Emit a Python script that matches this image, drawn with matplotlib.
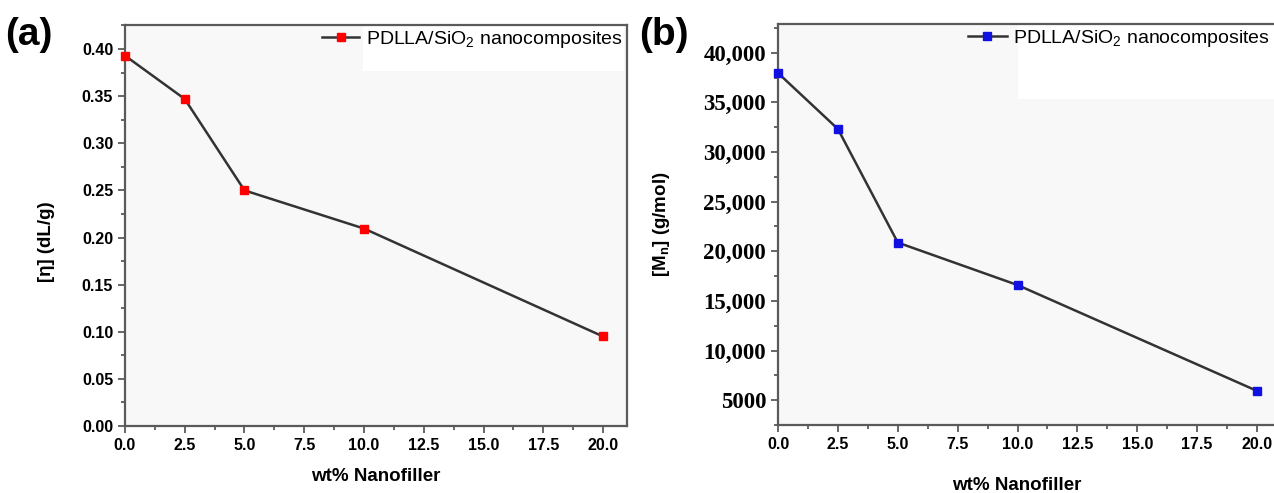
import matplotlib.pyplot as plt
from matplotlib.patches import Rectangle
from matplotlib.ticker import MultipleLocator, FuncFormatter

# data
wt_pct = [0.0, 2.5, 5.0, 10.0, 20.0]
eta = [0.393, 0.347, 0.250, 0.2095, 0.095]
mn = [37960, 32320, 20880, 16600, 5930]
legend_label = 'PDLLA/SiO$_2$ nanocomposites'
xticks = [0.0, 2.5, 5.0, 7.5, 10.0, 12.5, 15.0, 17.5, 20.0]
mn_ticks = [5000, 10000, 15000, 20000, 25000, 30000, 35000, 40000]

plt.rcParams['font.family'] = ['Liberation Sans', 'DejaVu Sans']
plt.rcParams['mathtext.fontset'] = 'custom'
plt.rcParams['mathtext.rm'] = 'Liberation Sans'
plt.rcParams['mathtext.bf'] = 'Liberation Sans:bold'

fig = plt.figure(figsize=(12.74, 4.93), dpi=100)
ax1 = fig.add_axes([0.0981, 0.1359, 0.394, 0.8134])
ax2 = fig.add_axes([0.6107, 0.1380, 0.3948, 0.8133])

spine_col = '#5a5a5a'
line_col = '#333333'


def style_axis(ax):
    ax.set_facecolor('#f8f8f8')
    for s in ax.spines.values():
        s.set_color(spine_col)
        s.set_linewidth(1.6)
    ax.tick_params(which='both', direction='out', color=spine_col, width=1.3)
    ax.tick_params(which='major', length=5)
    ax.tick_params(which='minor', length=3)
    ax.tick_params(top=False, right=False)
    ax.set_xlim(0, 21)
    ax.set_xticks(xticks)
    ax.xaxis.set_minor_locator(MultipleLocator(1.25))
    ax.set_xticklabels(['%.1f' % v for v in xticks], fontsize=11.5, fontweight='bold')
    ax.set_xlabel('wt% Nanofiller', fontsize=13.5, fontweight='bold')


# ---- (a) intrinsic viscosity
style_axis(ax1)
ax1.add_patch(Rectangle((0.474, 0.885), 0.52, 0.115, transform=ax1.transAxes,
                        facecolor='white', edgecolor='none', zorder=0))
ax1.plot(wt_pct, eta, '-', color=line_col, lw=1.8, marker='s', ms=6,
         mfc='red', mec='red', label=legend_label, clip_on=False, zorder=3)
ax1.set_ylim(0, 0.4255)
ax1.yaxis.set_major_locator(MultipleLocator(0.05))
ax1.yaxis.set_minor_locator(MultipleLocator(0.025))
ax1.yaxis.set_major_formatter(FuncFormatter(lambda v, p: '%.2f' % v))
for t in ax1.get_yticklabels():
    t.set_fontsize(11.5)
    t.set_fontweight('bold')
ax1.set_ylabel('[η] (dL/g)', fontsize=13.5, fontweight='bold')
ax1.yaxis.set_label_coords(-0.14, 0.46)
ax1.xaxis.set_label_coords(0.5, -0.105)
ax1.legend(loc='upper right', frameon=False, fontsize=14, handlelength=1.9,
           handletextpad=0.35, borderaxespad=0.05, borderpad=0.15)

# ---- (b) number average molecular weight
style_axis(ax2)
ax2.add_patch(Rectangle((0.477, 0.813), 0.55, 0.187, transform=ax2.transAxes,
                        facecolor='white', edgecolor='none', zorder=0))
ax2.plot(wt_pct, mn, '-', color=line_col, lw=1.8, marker='s', ms=6,
         mfc='#1010e0', mec='#1010e0', label=legend_label, clip_on=False, zorder=3)
ax2.set_ylim(2500, 42900)
ax2.set_yticks(mn_ticks)
ax2.yaxis.set_minor_locator(MultipleLocator(2500))
ax2.set_yticklabels(['5000'] + ['{:,}'.format(v) for v in mn_ticks[1:]],
                    fontsize=16.5, fontweight='bold', family='Liberation Serif')
ax2.set_ylabel('[M$_\\mathbf{n}$] (g/mol)', fontsize=13.5, fontweight='bold')
ax2.yaxis.set_label_coords(-0.21, 0.5)
ax2.xaxis.set_label_coords(0.475, -0.13)
ax2.legend(loc='upper right', frameon=False, fontsize=14, handlelength=2.0,
           handletextpad=0.3, borderaxespad=0.05, borderpad=0.15,
           bbox_to_anchor=(0.985, 1.0))

# panel letters
fig.text(0.004, 0.93, '(a)', fontsize=28, fontweight='bold', va='center')
fig.text(0.502, 0.93, '(b)', fontsize=28, fontweight='bold', va='center')

fig.savefig('out.png', dpi=100)
